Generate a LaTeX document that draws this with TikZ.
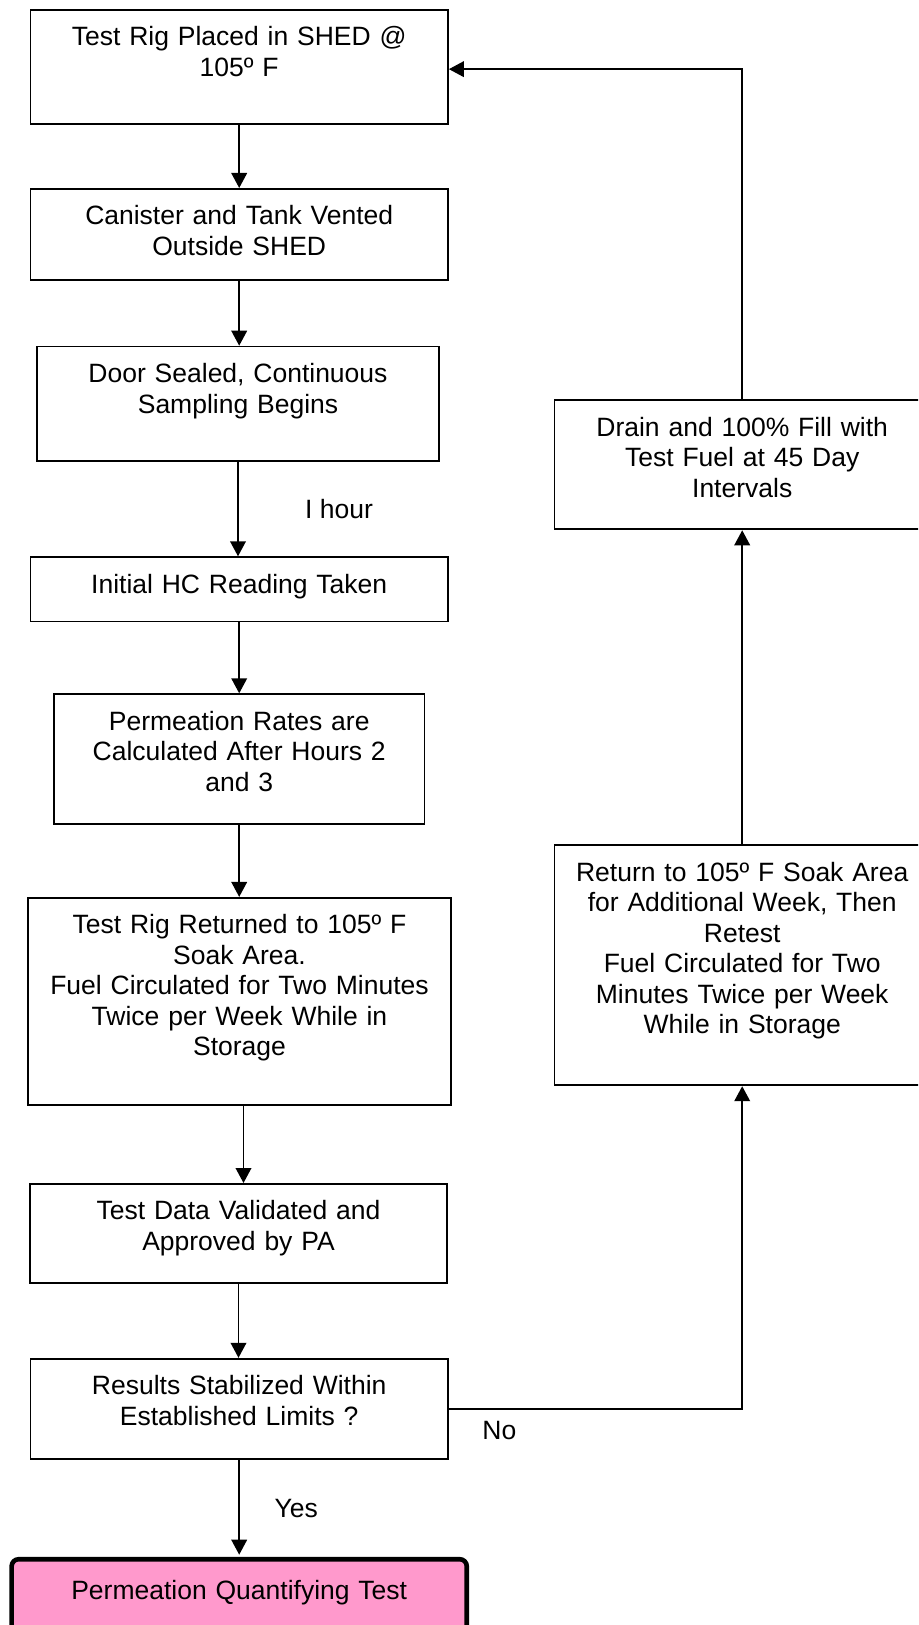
\documentclass[tikz,border=0pt]{standalone}
\usepackage{fontspec}
\setmainfont{Liberation Sans}
\usepackage{tikz}
\usetikzlibrary{arrows.meta}
\definecolor{termpink}{RGB}{255,153,204}

\begin{document}
\begin{tikzpicture}[x=0.5pt,y=-0.5pt,
  font=\fontsize{13.25}{15.25}\selectfont,
  stepbox/.style={draw,line width=0.9pt,anchor=north,align=center,
    inner xsep=0pt,inner ysep=0pt,text height=18pt},
  flow/.style={line width=0.9pt,-{Triangle[length=7.5pt,width=7.8pt]}},
  lbl/.style={inner sep=0pt}]
\clip (0,0) rectangle (918,1625);

% left column
\node [stepbox,text width=208.8pt,text depth=39.25pt] (place) at (239.2,9)
  {Test Rig Placed in SHED @\\105º F};
\node [stepbox,text width=208.8pt,text depth=27.75pt] (vent) at (239.2,188)
  {Canister and Tank Vented\\Outside SHED};
\node [stepbox,text width=201pt,text depth=39.15pt] (seal) at (238,345.7)
  {Door Sealed, Continuous\\Sampling Begins};
\node [stepbox,text width=208.8pt,text depth=14.15pt] (initial) at (239.2,556.3)
  {Initial HC Reading Taken};
\node [stepbox,text width=185.3pt,text depth=47.05pt] (rates) at (239.2,693.3)
  {Permeation Rates are\\Calculated After Hours 2\\and 3};
\node [stepbox,text width=211.35pt,text depth=85.55pt] (soak) at (239.5,896.9)
  {Test Rig Returned to 105º F\\Soak Area.\\Fuel Circulated for Two Minutes\\Twice per Week While in\\Storage};
\node [stepbox,text width=208.15pt,text depth=31.4pt] (valid) at (238.5,1183)
  {Test Data Validated and\\Approved by PA};
\node [stepbox,text width=208.8pt,text depth=32.05pt] (stable) at (239.2,1357.8)
  {Results Stabilized Within\\Established Limits ?};
\node [stepbox,line width=2.3pt,rounded corners=3.5pt,fill=termpink,
  text width=227.55pt,text height=20pt,text depth=40pt] (final) at (239.2,1556.9)
  {Permeation Quantifying Test};

% right column
\node [stepbox,text width=187.8pt,text depth=46.6pt] (drain) at (742.2,399.3)
  {Drain and 100\% Fill with\\Test Fuel at 45 Day\\Intervals};
\node [stepbox,text width=187.8pt,text depth=102pt] (retest) at (742.2,844.4)
  {Return to 105º F Soak Area\\for Additional Week, Then\\Retest\\Fuel Circulated for Two\\Minutes Twice per Week\\While in Storage};

% connectors
\draw [flow] (place.south) -- (vent.north);
\draw [flow] (vent.south) -- (vent.south |- seal.north);
\draw [flow] (seal.south) -- node [lbl,xshift=50.5pt] {I hour} (seal.south |- initial.north);
\draw [flow] (initial.south) -- (rates.north);
\draw [flow] (rates.south) -- (rates.south |- soak.north);
\draw [flow] ([xshift=2pt]soak.south) -- ([xshift=2pt]soak.south |- valid.north);
\draw [flow] (valid.south) -- (valid.south |- stable.north);
\draw [flow,shorten >=1.1pt] (stable.south) -- node [lbl,xshift=28.5pt] {Yes} (final.north);
\draw [flow] (stable.east) -| node [lbl,pos=0.086,yshift=-11pt] {No} (retest.south);
\draw [flow] (retest.north) -- (drain.south);
\draw [flow] (drain.north) |- ([yshift=-1pt]place.east);
\end{tikzpicture}
\end{document}
